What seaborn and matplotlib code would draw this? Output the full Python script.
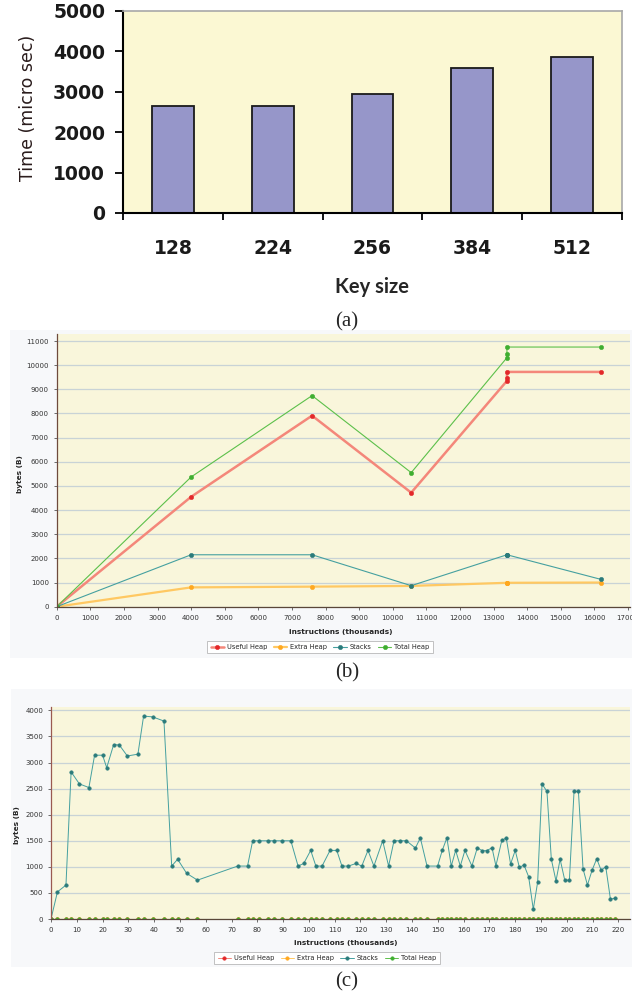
import numpy as np
import seaborn as sns
import matplotlib.pyplot as plt
from matplotlib.patches import Rectangle
from matplotlib.ticker import FixedLocator

# (a) encryption time per key size
key_sizes = ["128", "224", "256", "384", "512"]
times_us = [2650, 2650, 2940, 3580, 3870]

# (b) memory usage, long run
b_instr = [0, 4000, 7600, 10550, 13400, 13400, 13400, 16200]
b_useful = [0, 4550, 7910, 4720, 9350, 9460, 9720, 9720]
b_extra = [0, 800, 830, 860, 990, 990, 990, 1000]
b_stacks = [0, 2150, 2150, 870, 2150, 2150, 2150, 1130]
b_total = [0, 5370, 8740, 5550, 10310, 10460, 10750, 10750]

# (c) memory usage, short run (only stacks is non-zero)
c_instr = [0, 2.5, 5.8, 7.8, 11.0, 14.7, 16.9, 20.0, 21.6, 24.3, 26.5, 29.6, 33.7,
           35.9, 39.4, 43.8, 46.8, 49.1, 52.6, 56.8, 72.4, 76.2, 78.2, 80.7, 84.0,
           86.3, 89.5, 93.0, 95.8, 98.0, 100.7, 102.7, 105.1, 108.2, 110.8, 112.8,
           115.3, 118.3, 120.5, 122.9, 125.2, 128.6, 130.9, 133.0, 135.4, 137.8,
           141.3, 143.2, 145.8, 149.9, 151.7, 153.5, 155.2, 156.9, 158.7, 160.5,
           163.2, 165.3, 167.2, 168.9, 171.0, 172.5, 174.8, 176.5, 178.2, 180.0,
           181.6, 183.4, 185.2, 187.0, 188.7, 190.4, 192.3, 194.0, 195.8, 197.4,
           199.2, 201.0, 202.8, 204.5, 206.3, 208.0, 209.8, 211.6, 213.3, 215.1,
           216.9, 218.7]
c_stacks = [0, 520, 650, 2820, 2590, 2520, 3140, 3140, 2900, 3345, 3335, 3125, 3160,
            3890, 3875, 3795, 1015, 1145, 875, 745, 1015, 1015, 1500, 1500, 1500,
            1500, 1500, 1500, 1015, 1065, 1315, 1015, 1015, 1315, 1315, 1015,
            1015, 1065, 1015, 1315, 1015, 1500, 1015, 1500, 1500, 1500,
            1360, 1555, 1015, 1015, 1315, 1555, 1015, 1315, 1015, 1315,
            1015, 1365, 1310, 1310, 1365, 1020, 1505, 1555, 1055, 1315,
            990, 1035, 810, 185, 710, 2590, 2445, 1145, 730, 1145,
            745, 745, 2445, 2445, 960, 650, 935, 1155, 935, 1000,
            385, 395]
c_useful = [0] * len(c_instr)
c_extra = [0] * len(c_instr)
c_total = [0] * len(c_instr)

series_names = ["Useful Heap", "Extra Heap", "Stacks", "Total Heap"]
line_colors = ["#F4877A", "#FFC862", "#45A0A0", "#5CC04A"]
marker_colors = ["#E3282A", "#FFA820", "#2B7B7B", "#3FAE30"]

sns.set_theme(style="ticks")
plt.rcParams['font.family'] = ['DejaVu Sans']

W, H = 632, 999
fig = plt.figure(figsize=(W / 100, H / 100), dpi=100)


def box(x0, y0, x1, y1):
    # pixel box (top-left origin) -> figure fraction rect
    return [x0 / W, 1 - y1 / H, (x1 - x0) / W, (y1 - y0) / H]


for x0, y0, x1, y1 in [(10, 330, 632, 658), (11, 689, 632, 967)]:
    fig.patches.append(Rectangle((x0 / W, 1 - y1 / H), (x1 - x0) / W, (y1 - y0) / H,
                                 transform=fig.transFigure, facecolor="#F7F8FA",
                                 edgecolor="none", zorder=-5))

# ---------- (a)
ax_a = fig.add_axes(box(123, 11, 622, 213))
sns.barplot(x=key_sizes, y=times_us, ax=ax_a, color="#9696C9", saturation=1,
            width=0.42, edgecolor="#1a1a1a", linewidth=1.3)
ax_a.set_facecolor("#FBF8D3")
ax_a.set_xlim(-0.5, 4.5)
ax_a.set_ylim(0, 5000)
ax_a.set_yticks(range(0, 5001, 1000))
ax_a.xaxis.set_minor_locator(FixedLocator(np.arange(-0.5, 5, 1)))
ax_a.tick_params(axis="x", which="major", length=0, pad=18.5, labelsize=13.5)
ax_a.tick_params(axis="x", which="minor", length=5, width=1.3, color="black")
ax_a.tick_params(axis="y", length=5.8, width=1.3, pad=7, labelsize=13.5, color="black")
for lab in ax_a.get_xticklabels() + ax_a.get_yticklabels():
    lab.set_fontweight("bold")
    lab.set_color("#1a1a1a")
for side in ["left", "bottom"]:
    ax_a.spines[side].set_color("black")
    ax_a.spines[side].set_linewidth(1.5)
for side in ["top", "right"]:
    ax_a.spines[side].set_color("#A8A8A8")
    ax_a.spines[side].set_linewidth(1.2)
ax_a.set_xlabel("Key size", fontfamily="Lato", fontweight="bold", fontsize=14.5, va="center")
ax_a.xaxis.set_label_coords(372 / W, 1 - 287 / H, transform=fig.transFigure)
ax_a.set_ylabel("Time (micro sec)", fontsize=12.5, color="#2a1c1c", va="center")
ax_a.yaxis.set_label_coords(28 / W, 1 - 108 / H, transform=fig.transFigure)


def memory_axes(ax, xs, ys_list, lws, msize):
    for name, ys, lc, mc, lw in zip(series_names, ys_list, line_colors, marker_colors, lws):
        sns.lineplot(x=xs, y=ys, ax=ax, estimator=None, sort=False, color=lc, lw=lw,
                     marker="o", markersize=msize, markerfacecolor=mc,
                     markeredgecolor=mc, markeredgewidth=0.3, label=name)
    ax.set_facecolor("#F9F6DB")
    ax.grid(axis="y", color="#C9D3D6", lw=0.9)
    ax.set_axisbelow(True)
    ax.tick_params(length=2.5, width=0.6, pad=3.2, labelsize=5,
                   color="#555555", labelcolor="#333333")
    for side in ["top", "right"]:
        ax.spines[side].set_visible(False)
    ax.spines["left"].set_color("#6E4A3C")
    ax.spines["bottom"].set_color("#5A4638")
    ax.spines["left"].set_linewidth(0.9)
    ax.spines["bottom"].set_linewidth(0.9)
    ax.set_xlabel("instructions (thousands)", fontsize=5.3, fontweight="bold", va="center")
    ax.set_ylabel("bytes (B)", fontsize=5.3, fontweight="bold", va="center")


# ---------- (b)
ax_b = fig.add_axes(box(56.7, 334, 629.6, 606.7))
memory_axes(ax_b, b_instr, [b_useful, b_extra, b_stacks, b_total], [1.8, 1.6, 0.8, 0.8], 3.2)
ax_b.set_xlim(0, 17050)
ax_b.set_ylim(0, 11290)
ax_b.set_xticks(range(0, 17001, 1000))
ax_b.set_yticks(range(0, 11001, 1000))
ax_b.xaxis.set_label_coords(341 / W, 1 - 632 / H, transform=fig.transFigure)
ax_b.yaxis.set_label_coords(20 / W, 1 - 474 / H, transform=fig.transFigure)
ax_b.legend(loc="center", bbox_to_anchor=(320 / W, 1 - 647 / H), bbox_transform=fig.transFigure,
            ncol=4, fontsize=4.8, frameon=True, fancybox=False, edgecolor="#B8B8B8",
            facecolor="white", framealpha=1, handlelength=2.0, columnspacing=1.0,
            handletextpad=0.4, borderpad=0.5).get_frame().set_linewidth(0.6)

# ---------- (c)
ax_c = fig.add_axes(box(51, 706.7, 630, 919))
memory_axes(ax_c, c_instr, [c_useful, c_extra, c_stacks, c_total], [0.7, 0.7, 0.7, 0.7], 2.6)
ax_c.set_xlim(0, 224.5)
ax_c.set_ylim(0, 4070)
ax_c.set_xticks(range(0, 221, 10))
ax_c.set_yticks(range(0, 4001, 500))
ax_c.spines["left"].set_color("#9A5A50")
ax_c.xaxis.set_label_coords(346 / W, 1 - 943 / H, transform=fig.transFigure)
ax_c.yaxis.set_label_coords(17 / W, 1 - 825 / H, transform=fig.transFigure)
ax_c.legend(loc="center", bbox_to_anchor=(327 / W, 1 - 958 / H), bbox_transform=fig.transFigure,
            ncol=4, fontsize=4.8, frameon=True, fancybox=False, edgecolor="#B8B8B8",
            facecolor="white", framealpha=1, handlelength=2.0, columnspacing=1.0,
            handletextpad=0.4, borderpad=0.5).get_frame().set_linewidth(0.6)

# panel captions
for label, y in [("(a)", 322), ("(b)", 673), ("(c)", 982)]:
    fig.text(347 / W, 1 - y / H, label, fontfamily="Liberation Serif", fontsize=15,
             ha="center", va="center")

fig.savefig("out.png", dpi=100)
